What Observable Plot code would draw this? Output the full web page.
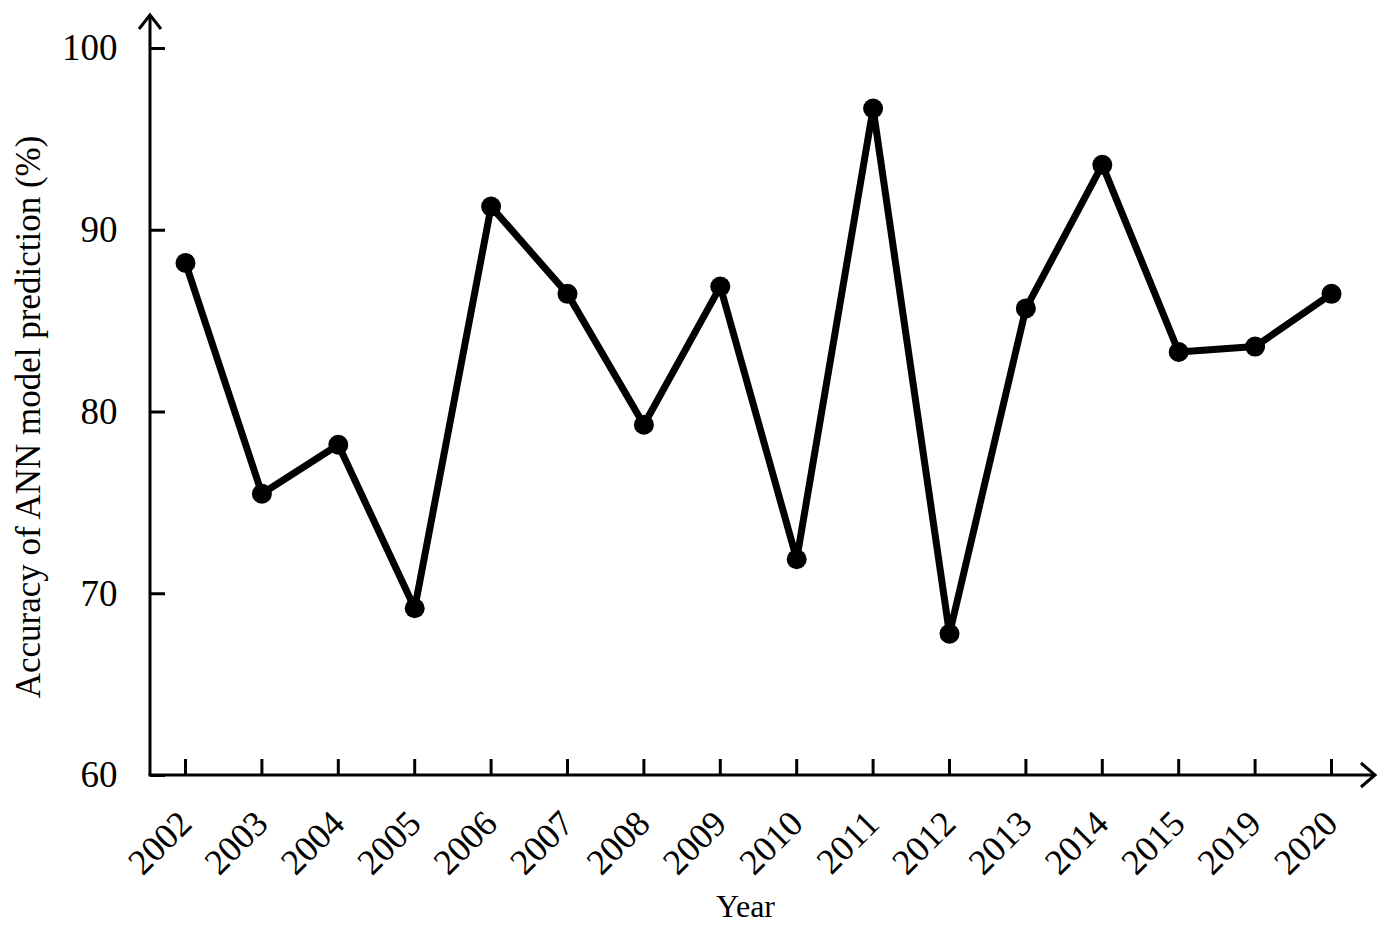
<!DOCTYPE html>
<html>
<head>
<meta charset="utf-8">
<script src="https://cdn.jsdelivr.net/npm/d3@7"></script>
<script src="https://cdn.jsdelivr.net/npm/@observablehq/plot@0.6"></script>
<style>
  html, body { margin: 0; padding: 0; background: #fff; }
  #chart svg { display: block; }
</style>
</head>
<body>
<div id="chart"></div>
<script>
const years = ["2002","2003","2004","2005","2006","2007","2008","2009","2010","2011","2012","2013","2014","2015","2019","2020"];
const accuracy = [88.2, 75.5, 78.2, 69.2, 91.3, 86.5, 79.3, 86.9, 71.9, 96.7, 67.8, 85.7, 93.6, 83.3, 83.6, 86.5];
const yTicks = [60, 70, 80, 90, 100];
const xTitle = ["Year"];
const yTitle = ["Accuracy of ANN model prediction (%)"];

const data = years.map((y, i) => ({year: y, acc: accuracy[i]}));

const W = 1387, H = 931;
const mL = 150, mR = 47, mT = 48, mB = 156;
const font = "'Liberation Serif', 'Times New Roman', serif";

const plot = Plot.plot({
  width: W,
  height: H,
  marginLeft: mL,
  marginRight: mR,
  marginTop: mT,
  marginBottom: mB,
  style: {fontFamily: font, background: "#fff", color: "#000", overflow: "visible"},
  x: {type: "point", domain: years, range: [185, 1331], padding: 0, round: false},
  y: {domain: [60, 100]},
  marks: [
    // inward ticks on x axis
    Plot.axisX({tickSize: 16, dy: -16, tickFormat: () => "", stroke: "#000", strokeWidth: 3, label: null}),
    // rotated year labels
    Plot.axisX({tickSize: 0, tickPadding: 42, tickRotate: -45, fontSize: 36, fill: "#000", label: null}),
    // inward ticks on y axis
    Plot.axisY({ticks: yTicks, tickSize: 15, dx: 15, tickFormat: () => "", stroke: "#000", strokeWidth: 3, label: null}),
    // y tick labels
    Plot.axisY({ticks: yTicks, tickSize: 0, tickPadding: 33, fontSize: 37, fill: "#000", label: null}),
    Plot.line(data, {x: "year", y: "acc", stroke: "#000", strokeWidth: 7, strokeLinejoin: "miter"}),
    Plot.dot(data, {x: "year", y: "acc", r: 10, fill: "#000", stroke: "none"}),
    Plot.text(xTitle, {frameAnchor: "bottom", lineAnchor: "middle", dy: 131, fontSize: 32, fill: "#000", text: d => d}),
    Plot.text(yTitle, {frameAnchor: "left", textAnchor: "middle", lineAnchor: "middle", dx: -122, dy: 5, rotate: -90, fontSize: 35, fill: "#000", text: d => d})
  ]
});

// axis lines with arrowheads
const svg = d3.select(plot);
const bottom = H - mB;
const topTip = mT - 33;
const rightTip = W - 12;
const g = svg.append("g").attr("fill", "none").attr("stroke", "#000").attr("stroke-width", 3);
g.append("path").attr("d", `M${mL},${bottom}V${topTip}`);
g.append("path").attr("d", `M${mL - 11},${topTip + 14}L${mL},${topTip}L${mL + 11},${topTip + 14}`).attr("stroke-linejoin", "miter");
g.append("path").attr("d", `M${mL - 1.5},${bottom}H${rightTip}`);
g.append("path").attr("d", `M${rightTip - 14},${bottom - 12}L${rightTip},${bottom}L${rightTip - 14},${bottom + 12}`);

document.getElementById("chart").appendChild(plot);
</script>
</body>
</html>
